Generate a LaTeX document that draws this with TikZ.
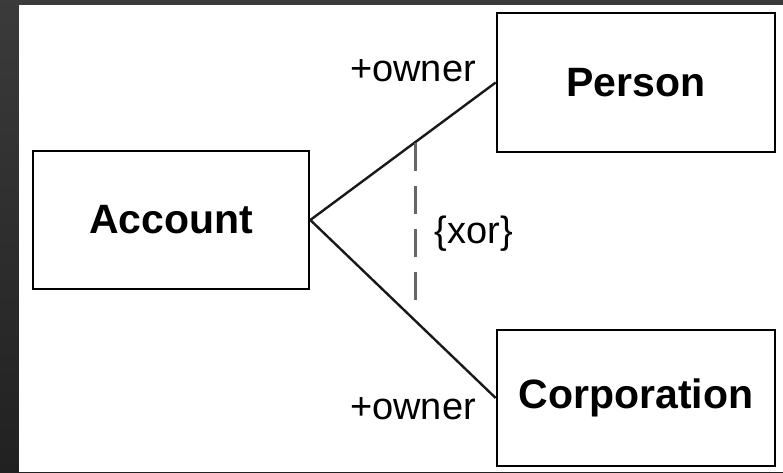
\documentclass[tikz,border=0pt]{standalone}
\usepackage{fontspec}
\setmainfont{Liberation Sans}
\begin{document}
\begin{tikzpicture}[x=1pt,y=-1pt,
  classbox/.style={draw=black,line width=2.6pt,fill=white,inner sep=0pt,
    font=\fontsize{41}{41}\selectfont\bfseries},
  rolelabel/.style={inner sep=0pt,font=\fontsize{38}{38}\selectfont,text=black},
  assoc/.style={line width=2.4pt,draw=black!90},
  xorline/.style={line width=3pt,draw=black!60,dash pattern=on 28pt off 15pt}]
\useasboundingbox (0,0) rectangle (783,472);
\shade[top color=black!77,bottom color=black!87] (0,0) rectangle (783,472);
\fill[white] (19,5) rectangle (783,472);
\node[classbox,minimum width=276pt,minimum height=138pt] (acc) at (171,220) {Account};
\node[classbox,minimum width=278pt,minimum height=139pt] (per) at (636,82.5) {Person};
\node[classbox,minimum width=278pt,minimum height=136pt] (cor) at (636,398) {Corporation};
\draw[assoc] (acc.east) -- (per.west);
\draw[assoc] (acc.east) -- (cor.west);
\coordinate (xa) at (415,143);
\coordinate (xb) at (415,304);
\draw[xorline] (xa) -- (xb);
\node[rolelabel] (xor) at (474,234) {\{xor\}};
\node[rolelabel] (ow1) at (413,71) {+owner};
\node[rolelabel] (ow2) at (413,409) {+owner};
\end{tikzpicture}
\end{document}
